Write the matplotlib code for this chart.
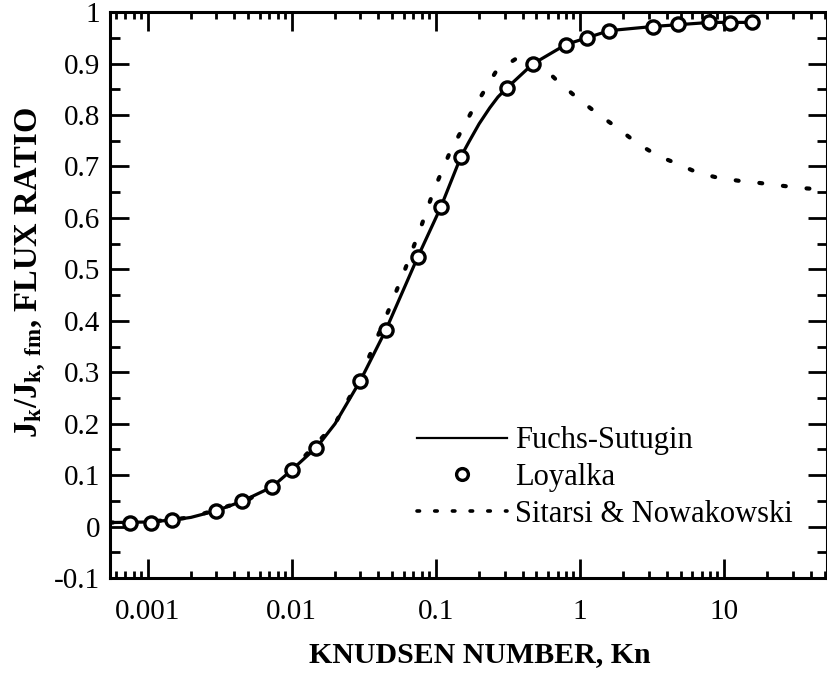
import matplotlib
matplotlib.use("Agg")
import matplotlib.pyplot as plt
from matplotlib.ticker import FixedLocator, FixedFormatter, LogLocator, NullFormatter, MultipleLocator
from matplotlib.lines import Line2D

plt.rcParams['font.family'] = ['Liberation Serif', 'DejaVu Serif']
plt.rcParams['mathtext.fontset'] = 'custom'
plt.rcParams['mathtext.rm'] = 'Liberation Serif'
plt.rcParams['mathtext.bf'] = 'Liberation Serif:bold'
plt.rcParams['mathtext.it'] = 'Liberation Serif:italic'

# Loyalka (circles)
loy_kn = [0.00075, 0.00105, 0.00148, 0.0030, 0.0045, 0.0073, 0.0100, 0.0148, 0.030, 0.0454,
          0.0753, 0.108, 0.149, 0.31, 0.474, 0.80, 1.12, 1.6, 3.2, 4.76, 7.9, 11.0, 15.7]
loy_y = [0.008, 0.007, 0.013, 0.031, 0.049, 0.077, 0.110, 0.153, 0.284, 0.382,
         0.524, 0.621, 0.719, 0.852, 0.899, 0.937, 0.950, 0.964, 0.972, 0.977, 0.981, 0.979, 0.980]

# Fuchs-Sutugin (solid line)
fs_kn = [0.00055, 0.001, 0.0015, 0.002, 0.003, 0.0045, 0.0073, 0.01, 0.015, 0.02, 0.03, 0.045,
         0.075, 0.108, 0.15, 0.17, 0.2, 0.237, 0.27, 0.31, 0.47, 0.8, 1.6, 3.2, 8.0, 16.0]
fs_y = [0.008, 0.009, 0.013, 0.018, 0.031, 0.049, 0.077, 0.110, 0.155, 0.200, 0.284, 0.382,
        0.524, 0.620, 0.720, 0.748, 0.783, 0.814, 0.835, 0.852, 0.899, 0.937, 0.964, 0.972, 0.980, 0.980]

# Sitarski & Nowakowski (dotted)
sn_kn = [0.00055, 0.001, 0.002, 0.005, 0.01, 0.02, 0.03, 0.047, 0.061, 0.0775, 0.097, 0.126,
         0.177, 0.261, 0.363, 0.5, 0.70, 0.96, 1.32, 1.82, 2.5, 3.46, 4.77, 6.56, 9.1, 12.8,
         17.6, 24.5, 34.7, 50.0]
sn_y = [0.008, 0.009, 0.018, 0.052, 0.110, 0.200, 0.290, 0.420, 0.499, 0.576, 0.654, 0.729,
        0.806, 0.884, 0.910, 0.905, 0.866, 0.833, 0.803, 0.775, 0.745, 0.721, 0.705, 0.688,
        0.678, 0.672, 0.668, 0.663, 0.658, 0.655]

xticks = [0.001, 0.01, 0.1, 1, 10]
xtick_labels = ["0.001", "0.01", "0.1", "1", "10"]
yticks = [-0.1, 0, 0.1, 0.2, 0.3, 0.4, 0.5, 0.6, 0.7, 0.8, 0.9, 1.0]
ytick_labels = ["-0.1", "0", "0.1", "0.2", "0.3", "0.4", "0.5", "0.6", "0.7", "0.8", "0.9", "1"]

fig = plt.figure(figsize=(8.28, 6.73), dpi=100)
ax = fig.add_axes([0.133, 0.141, 0.866, 0.841])

ax.plot(fs_kn, fs_y, color='black', lw=2.3, solid_capstyle='round', zorder=2)
ax.plot(sn_kn, sn_y, color='black', lw=3.0, linestyle=(0, (0.7, 5.0)), dash_capstyle='round', zorder=1)
ax.plot(loy_kn, loy_y, linestyle='none', marker='o', ms=9.5, mew=2.4, mfc='white', mec='black', zorder=3)

ax.set_xscale('log')
ax.set_xlim(0.00055, 52)
ax.set_ylim(-0.1, 1.0)

ax.xaxis.set_major_locator(FixedLocator(xticks))
ax.xaxis.set_major_formatter(FixedFormatter(xtick_labels))
ax.xaxis.set_minor_locator(LogLocator(base=10, subs=[2, 3, 4, 5, 6, 7, 8, 9], numticks=20))
ax.xaxis.set_minor_formatter(NullFormatter())
ax.yaxis.set_major_locator(FixedLocator(yticks))
ax.yaxis.set_major_formatter(FixedFormatter(ytick_labels))
ax.yaxis.set_minor_locator(MultipleLocator(0.05))

ax.tick_params(which='both', direction='in', top=True, right=True, width=2, labelsize=21, colors='black')
ax.tick_params(which='major', length=14)
ax.tick_params(which='minor', length=7)
ax.tick_params(axis='x', which='minor', length=5)
ax.tick_params(axis='x', which='major', pad=15)
ax.tick_params(axis='y', which='major', pad=7)

for s in ax.spines.values():
    s.set_linewidth(2.2)

ax.set_xlabel("KNUDSEN NUMBER, Kn", fontsize=21.5, fontweight='bold')
ax.set_ylabel(r"$\mathbf{J_k/J_{k,\ fm}}$, FLUX RATIO", fontsize=23.5, fontweight='bold')
ax.xaxis.set_label_coords(0.516, -0.112)
ax.yaxis.set_label_coords(-0.086, 0.54)

handles = [Line2D([], [], color='black', lw=1.6),
           Line2D([], [], linestyle='none', marker='o', ms=8.5, mew=2.4, mfc='white', mec='black'),
           Line2D([], [], color='black', lw=2.6, linestyle=(0, (0.7, 4.2)), dash_capstyle='round')]
ax.legend(handles, ["Fuchs-Sutugin", "Loyalka", "Sitarsi & Nowakowski"], frameon=False,
          fontsize=22, loc='lower left', bbox_to_anchor=(0.411, 0.066), handlelength=2.95,
          handletextpad=0.25, labelspacing=0.25, borderaxespad=0)

fig.savefig("out.png", dpi=100)
